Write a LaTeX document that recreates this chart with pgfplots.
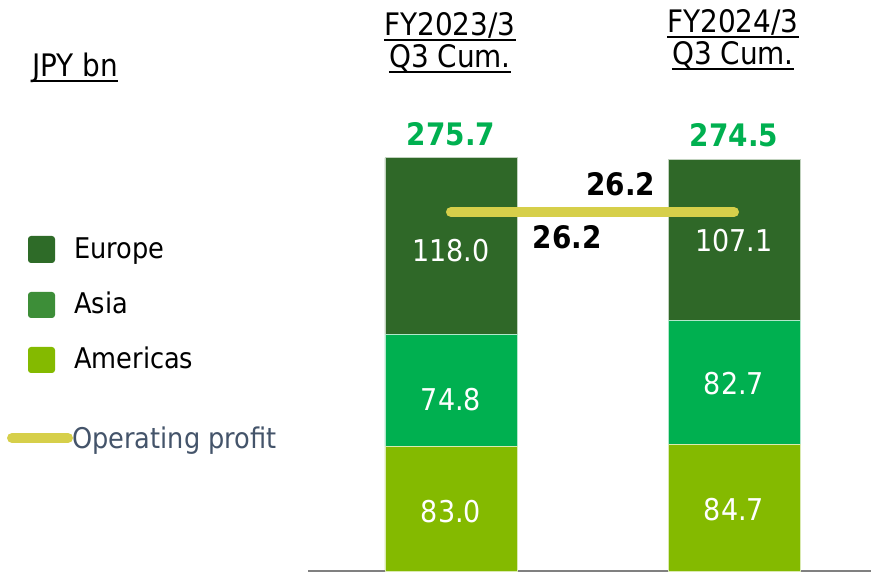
\documentclass[border=0pt]{standalone}
\usepackage{pgfplots}
\pgfplotsset{compat=1.18}
\usepackage{fontspec}
\setmainfont{DejaVu Sans Condensed}
\definecolor{europe}{HTML}{2F6828}
\definecolor{asia}{HTML}{00B050}
\definecolor{americas}{HTML}{84BA00}
\definecolor{leuro}{HTML}{2E6B28}
\definecolor{lasia}{HTML}{3D8E38}
\definecolor{opline}{HTML}{D6CF4A}
\definecolor{optext}{HTML}{44546A}
\definecolor{totgreen}{HTML}{00B050}
\newcommand{\fsz}[1]{\fontsize{#1bp}{#1bp}\selectfont}
\tikzset{seg/.style={text=white, font=\fsz{30}, inner sep=0pt},
         tot/.style={anchor=base, text=totgreen, font=\bfseries\fsz{31}, inner sep=0pt}}
\pgfplotsset{base/.style={at={(308bp,2bp)}, anchor=south west,
  scale only axis, width=563bp, height=449.4bp,
  xmin=-0.505, xmax=1.484, clip=false}}
\begin{document}
\begin{tikzpicture}[x=1bp,y=1bp]
\useasboundingbox (0,0) rectangle (871,573);
\begin{axis}[
  base, ymin=0, ymax=300,
  axis y line=none, axis x line=bottom,
  x axis line style={draw=gray, line width=1.6bp, -},
  xtick=\empty, ytick=\empty,
  ybar stacked, bar width=132bp,
]
\addplot[fill=americas, draw=white!70!americas, line width=0.8bp] coordinates {(0,83.0) (1,84.7)};
\addplot[fill=asia, draw=white!70!asia, line width=0.8bp] coordinates {(0,74.8) (1,82.7)};
\addplot[fill=europe, draw=white!70!europe, line width=0.8bp] coordinates {(0,118.0) (1,107.1)};
\end{axis}
\begin{axis}[base, ymin=0, ymax=300, hide axis]
\node[seg] at (axis cs:0,39.9) {83.0};
\node[seg] at (axis cs:0,114.5) {74.8};
\node[seg] at (axis cs:0,214.0) {118.0};
\node[seg] at (axis cs:1,40.9) {84.7};
\node[seg] at (axis cs:1,124.8) {82.7};
\node[seg] at (axis cs:1,220.3) {107.1};
\node[tot, yshift=12bp] at (axis cs:0,275.7) {275.7};
\node[tot, yshift=13bp] at (axis cs:1,274.5) {274.5};
\end{axis}
\begin{axis}[base, ymin=0, ymax=32.8, hide axis]
\addplot[opline, line width=10bp, line cap=round] coordinates {(0,26.2) (1,26.2)}
  node[pos=0, anchor=base west, xshift=77bp, yshift=-36bp, text=black, font=\bfseries\fsz{31}, inner sep=0pt] {26.2}
  node[pos=1, anchor=base east, xshift=-74bp, yshift=17bp, text=black, font=\bfseries\fsz{31}, inner sep=0pt] {26.2};
\end{axis}
% titles
\node[anchor=base, font=\fsz{31}, inner sep=0pt] (t1) at (450,537) {FY2023/3};
\draw[line width=1.6bp] ([yshift=-4bp]t1.base west) -- ([yshift=-4bp]t1.base east);
\node[anchor=base, font=\fsz{31}, inner sep=0pt] (t2) at (450,505) {Q3 Cum.};
\draw[line width=1.6bp] ([yshift=-4bp]t2.base west) -- ([yshift=-4bp]t2.base east);
\node[anchor=base, font=\fsz{31}, inner sep=0pt] (t3) at (733,540) {FY2024/3};
\draw[line width=1.6bp] ([yshift=-4bp]t3.base west) -- ([yshift=-4bp]t3.base east);
\node[anchor=base, font=\fsz{31}, inner sep=0pt] (t4) at (733,508) {Q3 Cum.};
\draw[line width=1.6bp] ([yshift=-4bp]t4.base west) -- ([yshift=-4bp]t4.base east);
\node[anchor=base west, font=\fsz{31}, inner sep=0pt] (t5) at (32,496) {JPY bn};
\draw[line width=1.6bp] ([yshift=-4bp]t5.base west) -- ([yshift=-4bp]t5.base east);
% legend
\fill[leuro, rounded corners=3bp] (28,310) rectangle (55,337);
\fill[lasia, rounded corners=3bp] (28,255) rectangle (55,281);
\fill[americas, rounded corners=3bp] (28,200) rectangle (55,226);
\node[anchor=base west, font=\fsz{28.5}, inner sep=0pt] at (74,314) {Europe};
\node[anchor=base west, font=\fsz{28.5}, inner sep=0pt] at (74,259) {Asia};
\node[anchor=base west, font=\fsz{28.5}, inner sep=0pt] at (74,204) {Americas};
\draw[opline, line width=10bp, line cap=round] (12,135) -- (68,135);
\node[anchor=base west, font=\fsz{28.5}, inner sep=0pt, text=optext] at (72,124) {Operating profit};
\end{tikzpicture}
\end{document}
